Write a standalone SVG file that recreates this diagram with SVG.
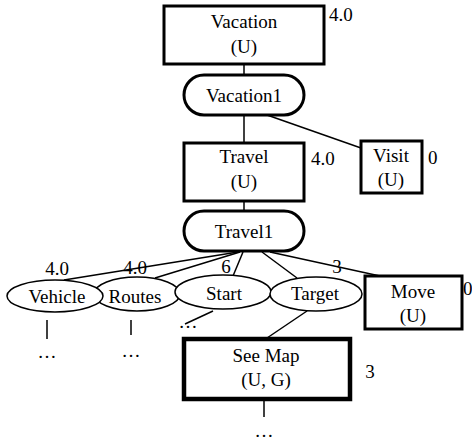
<svg xmlns="http://www.w3.org/2000/svg" width="472" height="444" viewBox="0 0 472 444">
  <style>
    text { font-family: 'Liberation Serif', 'DejaVu Serif', serif; font-size: 19px; fill: #000; }
    .c { text-anchor: middle; }
    .box { fill: #fff; stroke: #000; stroke-width: 3; }
    .heavy { fill: #fff; stroke: #000; stroke-width: 4.5; }
    .pill { fill: #fff; stroke: #000; stroke-width: 3; }
    .ell { fill: #fff; stroke: #000; stroke-width: 1.5; }
    .edge { stroke: #000; stroke-width: 1.5; fill: none; }
  </style>
  <rect width="472" height="444" fill="#fff"/>

  <g id="connectors">
    <line class="edge" x1="244" y1="64" x2="244" y2="75"/>
    <line class="edge" x1="244" y1="115" x2="244" y2="143"/>
    <line class="edge" x1="267" y1="115" x2="361" y2="148"/>
    <line class="edge" x1="244" y1="201" x2="244" y2="211"/>
    <line class="edge" x1="238" y1="252" x2="64" y2="280"/>
    <line class="edge" x1="240" y1="252" x2="155" y2="278"/>
    <line class="edge" x1="243" y1="252" x2="233" y2="276"/>
    <line class="edge" x1="262" y1="252" x2="297" y2="278"/>
    <line class="edge" x1="270" y1="252" x2="380" y2="276"/>
    <line class="edge" x1="47" y1="320" x2="47" y2="339"/>
    <line class="edge" x1="131" y1="320" x2="131" y2="335"/>
    <line class="edge" x1="213" y1="311" x2="185" y2="324"/>
    <line class="edge" x1="307" y1="311" x2="267" y2="338"/>
    <line class="edge" x1="264" y1="399" x2="264" y2="417"/>
  </g>

  <g font-family="Liberation Serif, serif" font-size="19">
  <g id="vacation">
    <rect class="box" x="164" y="6" width="160" height="58"/>
    <text class="c" x="244" y="28">Vacation</text>
    <text class="c" x="244" y="53">(U)</text>
    <text x="329" y="21">4.0</text>
  </g>

  <g id="vacation1">
    <rect class="pill" x="184" y="75" width="120" height="40" rx="20" ry="20"/>
    <text class="c" x="244" y="102">Vacation1</text>
  </g>

  <g id="travel">
    <rect class="box" x="184" y="143" width="120" height="58"/>
    <text class="c" x="244" y="163">Travel</text>
    <text class="c" x="244" y="188">(U)</text>
    <text x="311" y="165">4.0</text>
  </g>

  <g id="visit">
    <rect class="box" x="361" y="141" width="61" height="52"/>
    <text class="c" x="391" y="162">Visit</text>
    <text class="c" x="391" y="186">(U)</text>
    <text x="428" y="164">0</text>
  </g>

  <g id="travel1">
    <rect class="pill" x="184" y="211" width="120" height="40" rx="20" ry="20"/>
    <text class="c" x="244" y="238">Travel1</text>
  </g>

  <g id="routes">
    <ellipse class="ell" cx="137" cy="294" rx="43" ry="17"/>
    <text class="c" x="135" y="303">Routes</text>
    <text class="c" x="135" y="274">4.0</text>
    <text class="c" x="131" y="357">…</text>
  </g>

  <g id="vehicle">
    <ellipse class="ell" cx="55" cy="296" rx="48" ry="16"/>
    <text class="c" x="57" y="303">Vehicle</text>
    <text class="c" x="57" y="275">4.0</text>
    <text class="c" x="47" y="358">…</text>
  </g>

  <g id="start">
    <ellipse class="ell" cx="223" cy="292" rx="48" ry="17"/>
    <text class="c" x="224" y="300">Start</text>
    <text class="c" x="226" y="273">6</text>
    <text class="c" x="188" y="328">…</text>
  </g>

  <g id="target">
    <ellipse class="ell" cx="316" cy="294" rx="46" ry="17"/>
    <text class="c" x="315" y="300">Target</text>
    <text class="c" x="337" y="273">3</text>
  </g>

  <g id="move">
    <rect class="box" x="365" y="276" width="97" height="53"/>
    <text class="c" x="413" y="298">Move</text>
    <text class="c" x="413" y="322">(U)</text>
    <text x="463" y="295">0</text>
  </g>

  <g id="see-map">
    <rect class="heavy" x="184" y="339" width="166" height="60"/>
    <text class="c" x="266" y="362">See Map</text>
    <text class="c" x="266" y="386">(U, G)</text>
    <text class="c" x="370" y="378">3</text>
    <text class="c" x="264" y="437">…</text>
  </g>
  </g>
</svg>
